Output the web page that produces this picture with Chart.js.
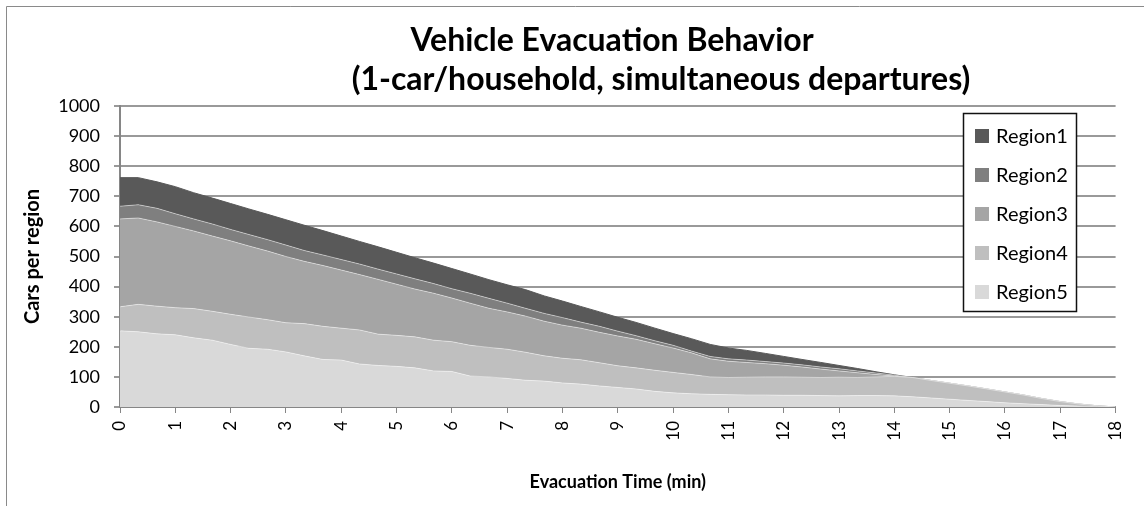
<!DOCTYPE html>
<html><head><meta charset="utf-8">
<script src="https://cdn.jsdelivr.net/npm/chart.js@4.4.1/dist/chart.umd.min.js"></script>
<style>html,body{margin:0;padding:0;background:#fff;} #wrap{position:relative;width:1144px;height:506px;} canvas{display:block;}</style>
</head><body><div id="wrap"><canvas id="c" width="1144" height="506"></canvas></div>
<script>
const titleLines = ['Vehicle Evacuation Behavior', '(1-car/household, simultaneous departures)'];
const xAxisTitle = 'Evacuation Time (min)';
const yAxisTitle = 'Cars per region';
const regionNames = ['Region1', 'Region2', 'Region3', 'Region4', 'Region5'];
const regionColors = ['#595959', '#7f7f7f', '#a5a5a5', '#bfbfbf', '#d9d9d9'];

// evacuation time (minutes)
const timeMin = [0,0.33,0.67,1,1.33,1.67,2,2.33,2.67,3,3.33,3.67,4,4.33,4.67,5,5.33,5.67,6,6.33,6.67,7,7.33,7.67,8,8.33,8.67,9,9.33,9.67,10,10.33,10.67,11,11.33,11.67,12,12.33,12.67,13,13.33,13.67,14,14.33,14.67,15,15.33,15.67,16,16.33,16.67,17,17.33,17.67,18];

// cars per region (stacked)
const region1 = [95,90,88,90,87,86,86,85,84,84,84,81,78,75,74,72,70,68,67,64,62,61,62,58,55,52,48,46,44,42,39,41,40,36,32,27,22,18,15,11,8,4,1,0,0,0,0,0,0,0,0,0,0,0,0];
const region2 = [42,44,45,42,40,40,38,38,38,38,36,35,35,35,34,34,34,32,31,33,33,29,26,26,25,20,20,16,12,10,9,6,8,8,8,7,7,7,7,7,6,5,3,0,0,0,0,0,0,0,0,0,0,0,0];
const region3 = [292,287,280,270,258,250,244,236,228,220,207,202,193,184,182,170,159,156,145,140,130,124,120,115,110,105,101,99,95,88,81,72,60,54,49,44,39,34,28,21,16,8,1,0,0,0,0,0,0,0,0,0,0,0,0];
const region4 = [80,91,92,90,97,96,100,104,98,97,107,110,106,113,104,103,103,102,99,102,98,97,93,84,82,81,77,72,70,70,68,64,58,57,59,60,61,60,60,62,60,62,65,64,58,53,48,42,36,29,20,13,7,3,0];
const region5 = [253,250,243,240,230,222,208,195,192,183,170,158,156,143,138,135,130,120,118,103,100,95,89,86,80,76,70,65,60,52,47,44,42,41,40,40,39,39,38,37,38,38,37,34,30,26,22,18,14,11,8,5,3,1,0];

const yMin = 0, yMax = 1000, yStep = 100;
const xMin = 0, xMax = 18, xStep = 1;

const regionData = [region1, region2, region3, region4, region5];

Chart.defaults.font.family = 'Lato';
Chart.defaults.color = '#000';

// bottom layer first for stacking
const datasets = [];
for (let k = 4; k >= 0; k--) {
  datasets.push({
    label: regionNames[k],
    data: timeMin.map((t, i) => ({x: t, y: regionData[k][i]})),
    backgroundColor: regionColors[k],
    borderColor: k === 0 ? regionColors[k] : 'rgba(255,255,255,0.45)',
    borderWidth: 1,
    pointRadius: 0,
    tension: 0,
    fill: datasets.length === 0 ? 'origin' : '-1'
  });
}

const decor = {
  id: 'decor',
  afterDraw(chart) {
    const ctx = chart.ctx;
    ctx.save();
    // chart frame
    ctx.strokeStyle = '#8a8a8a';
    ctx.lineWidth = 1;
    ctx.beginPath();
    ctx.moveTo(6.5, 506); ctx.lineTo(6.5, 6.5); ctx.lineTo(1144, 6.5);
    ctx.stroke();
    // title
    ctx.fillStyle = '#000';
    ctx.font = 'bold 32px Lato';
    ctx.textAlign = 'center';
    ctx.textBaseline = 'middle';
    ctx.fillText(titleLines[0], 612, 41);
    ctx.fillText(titleLines[1], 661, 80);
    // legend
    const bx = 963.5, by = 113.5, bw = 113, bh = 198;
    ctx.fillStyle = '#fff';
    ctx.fillRect(bx, by, bw, bh);
    ctx.strokeStyle = '#111';
    ctx.lineWidth = 1.5;
    ctx.strokeRect(bx, by, bw, bh);
    ctx.font = '20px Lato';
    ctx.textAlign = 'left';
    for (let i = 0; i < regionNames.length; i++) {
      const cy = 136 + 39 * i;
      ctx.fillStyle = regionColors[i];
      ctx.fillRect(975, cy - 7, 14, 14);
      ctx.fillStyle = '#000';
      ctx.fillText(regionNames[i], 996, cy + 1);
    }
    ctx.restore();
  }
};

new Chart(document.getElementById('c'), {
  type: 'line',
  data: { datasets },
  options: {
    responsive: false,
    animation: false,
    devicePixelRatio: 1,
    layout: { padding: { top: 106, right: 21, bottom: 0, left: 0 } },
    plugins: { legend: { display: false }, tooltip: { enabled: false }, title: { display: false } },
    scales: {
      x: {
        type: 'linear', min: xMin, max: xMax,
        afterFit(s) { s.height = 99; },
        ticks: { stepSize: xStep, autoSkip: false, maxRotation: 90, minRotation: 90, padding: 8, font: { size: 17 }, color: '#000' },
        grid: { drawOnChartArea: false, drawTicks: true, tickLength: 6, color: '#868686', lineWidth: 1 },
        border: { display: true, color: '#868686', width: 2 },
        title: { display: true, text: xAxisTitle, font: { size: 18, weight: 'bold' }, color: '#000', padding: { top: 0, bottom: 13 } }
      },
      y: {
        stacked: true, min: yMin, max: yMax,
        afterFit(s) { s.width = 120; },
        ticks: { stepSize: yStep, padding: 14, font: { size: 18 }, color: '#000', callback: v => String(v) },
        grid: { drawTicks: true, tickLength: 6, color: '#999999', lineWidth: 2 },
        border: { display: true, color: '#868686', width: 2 },
        title: { display: true, text: yAxisTitle, font: { size: 20, weight: 'bold' }, color: '#000', padding: { top: 21, bottom: 0 } }
      }
    }
  },
  plugins: [decor]
});
</script>
</body></html>
